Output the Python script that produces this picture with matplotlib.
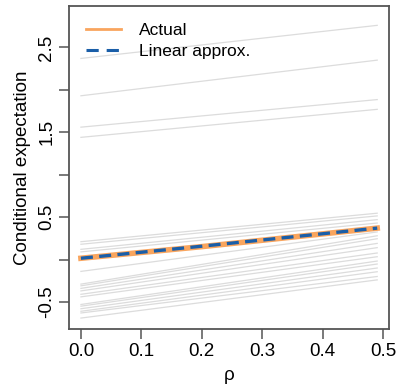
import numpy as np
import matplotlib
matplotlib.use('Agg')
from matplotlib import pyplot as plt

plt.rcParams.update({
    "font.family": ["Liberation Sans", "DejaVu Sans"],
    "font.size": 13,
})

# rho range of every curve
rho = [0.0, 0.49]

# gray conditional expectation lines: value at rho=0 and at rho=0.49
gray_start = [2.37, 1.93, 1.56, 1.44,
              0.21, 0.18, 0.12, 0.09,
              -0.14, -0.29, -0.31, -0.34, -0.37, -0.41, -0.44,
              -0.53, -0.55, -0.58, -0.61, -0.63, -0.69]
gray_end = [2.76, 2.35, 1.885, 1.77,
            0.546, 0.514, 0.47, 0.43,
            0.325, 0.28, 0.245, 0.19, 0.14, 0.077, 0.033,
            -0.018, -0.053, -0.10, -0.144, -0.20, -0.24]

actual_rho = [0.0, 0.2, 0.49]
actual = [0.015, 0.152, 0.37]
linear = [0.015, 0.157, 0.37]

fig = plt.figure(figsize=(3.97, 3.89), dpi=100)
ax = fig.add_axes([0.174, 0.154, 0.806, 0.831])

for a, b in zip(gray_start, gray_end):
    ax.plot(rho, [a, b], '-', color='#dcdcdc', linewidth=0.9, zorder=1)

ax.plot(actual_rho, actual, '-', color='#f9a55e', linewidth=4.0, label='Actual', zorder=2)
ax.plot(actual_rho, linear, '--', color='#1a5ea8', linewidth=2.4, dashes=(3.6, 1.9),
        label='Linear approx.', zorder=3)

ax.set_xlim(-0.0196, 0.5096)
ax.set_ylim(-0.82, 2.99)
ax.set_xticks([0.0, 0.1, 0.2, 0.3, 0.4, 0.5])
ax.set_xticklabels(['0.0', '0.1', '0.2', '0.3', '0.4', '0.5'])
ax.set_yticks([-0.5, 0.0, 0.5, 1.0, 1.5, 2.0, 2.5])
ax.set_yticklabels(['-0.5', '', '0.5', '', '1.5', '', '2.5'], rotation=90, va='center')
ax.tick_params(axis='both', length=7, width=1.1, color='#555555', labelsize=13.5, pad=3)

for s in ax.spines.values():
    s.set_color('#555555')
    s.set_linewidth(1.3)

ax.set_xlabel('\u03c1', fontsize=13.5, labelpad=5)
ax.set_ylabel('Conditional expectation', fontsize=13.5, labelpad=5)

leg = ax.legend(loc='upper left', frameon=False, fontsize=12.5, handlelength=2.0,
                borderaxespad=0.6, labelspacing=0.3, handletextpad=1.0)
leg.get_lines()[0].set_linewidth(2.0)
leg.get_lines()[1].set_linewidth(2.2)
leg.get_lines()[1].set_dashes((4, 2.6))

plt.savefig('out.png', dpi=100)
